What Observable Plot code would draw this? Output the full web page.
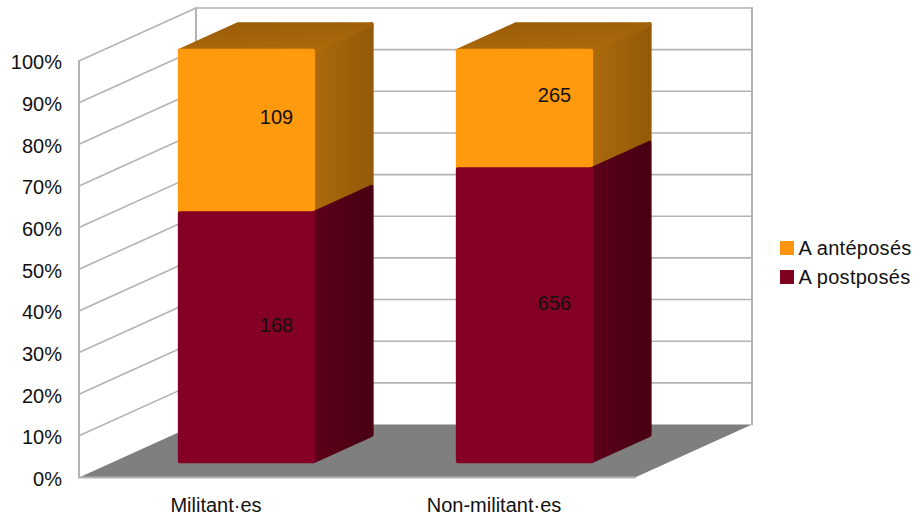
<!DOCTYPE html>
<html>
<head>
<meta charset="utf-8">
<script src="https://cdn.jsdelivr.net/npm/d3@7"></script>
<script src="https://cdn.jsdelivr.net/npm/@observablehq/plot@0.6"></script>
<style>
  html, body { margin: 0; padding: 0; background: #fff; }
  #chart { position: relative; width: 915px; height: 515px; overflow: hidden; font-family: "Liberation Sans", sans-serif; }
  #chart svg { display: block; }
  #legend { position: absolute; left: 780px; top: 234px; font-size: 20px; color: #111; line-height: 28.5px; letter-spacing: 0.27px; }
  #legend div { display: flex; align-items: center; white-space: nowrap; }
  #legend span.sw { width: 14px; height: 14px; margin-right: 4.5px; display: inline-block; }
</style>
</head>
<body>
<div id="chart"></div>
<script>
const categories = ["Militant·es", "Non-militant·es"];
const postposes = [168, 656];
const anteposes = [109, 265];
const seriesNames = ["A antéposés", "A postposés"];
const yTicks = [0, 10, 20, 30, 40, 50, 60, 70, 80, 90, 100];

const colors = {
  ante: "#ff9a0e", post: "#840024", legendAnte: "#ff950e", legendPost: "#7e0021",
  floor: "#7f7f7f", grid: "#b3b3b3", label: "#111"
};

// Oblique projection of the 3D box, in data units of the x and y scales
const depthX = 117 / 278, depthY = 12.72;
const P = (x, y, t) => ({x: x + t * depthX, y: y + t * depthY});
const poly = (pts, fill) => Plot.line(pts, {
  x: "x", y: "y", curve: "linear-closed", fill, stroke: fill,
  strokeWidth: 4, strokeLinejoin: "round"
});

const nCat = categories.length;
const t0 = 0.25, t1 = 0.75;         // depth of the bars
const bandA = 0.2575, bandB = 0.737; // width of the bars in a band
const bevel = 0.7;                  // inset of the rounded box ends, in percent

const gridPts = yTicks.slice(1).flatMap(v => [
  {...P(0, v, 0), id: v}, {...P(0, v, 1), id: v}, {...P(nCat, v, 1), id: v}
]);
const framePts = [
  {...P(0, 0, 0), id: "a"}, {...P(0, 100, 0), id: "a"},
  {...P(0, 0, 1), id: "b"}, {...P(0, 100, 1), id: "b"},
  {...P(nCat, 0, 1), id: "c"}, {...P(nCat, 100, 1), id: "c"},
  {...P(0, 0, 0), id: "d"}, {...P(nCat, 0, 0), id: "d"}
];

const barMarks = categories.flatMap((c, i) => {
  const total = postposes[i] + anteposes[i];
  const split = postposes[i] / total * 100;
  const a = i + bandA, b = i + bandB;
  const box = (lo, hi) => ({
    front: [P(a, lo, t0), P(b, lo, t0), P(b, hi, t0), P(a, hi, t0)],
    side: [P(b, lo, t0), P(b, lo, t1), P(b, hi, t1), P(b, hi, t0)],
    top: [P(a, hi, t0), P(b, hi, t0), P(b, hi, t1), P(a, hi, t1)]
  });
  const red = box(bevel, split - 0.4), org = box(split, 100 - bevel);
  return [
    poly(org.side, "url(#sideAnte)"), poly(org.top, "url(#topAnte)"), poly(org.front, colors.ante),
    poly(red.side, "url(#sidePost)"), poly(red.front, colors.post)
  ];
});

const labelRows = categories.flatMap((c, i) => {
  const total = postposes[i] + anteposes[i];
  const split = postposes[i] / total * 100;
  return [
    {...P(i + 0.5, split / 2, 0.5), text: String(postposes[i])},
    {...P(i + 0.5, (split + 100) / 2, 0.5), text: String(anteposes[i])}
  ];
});

const defs = () => {
  const d = d3.create("svg:defs");
  const grad = (id, x2, y2, stops) => {
    const g = d.append("linearGradient").attr("id", id).attr("x1", 0).attr("y1", 0).attr("x2", x2).attr("y2", y2);
    stops.forEach(([o, col]) => g.append("stop").attr("offset", o).attr("stop-color", col));
  };
  grad("sideAnte", 1, 0, [[0, "#ac6a0b"], [1, "#945a08"]]);
  grad("topAnte", 0.4, 1, [[0, "#995c08"], [1, "#ad690a"]]);
  grad("sidePost", 1, 0, [[0, "#5c0019"], [1, "#480012"]]);
  return d.node();
};

const plot = Plot.plot({
  width: 915,
  height: 515,
  marginLeft: 78.5,
  marginRight: 280.5,
  marginTop: 60.5,
  marginBottom: 38,
  style: {background: "transparent", fontFamily: "'Liberation Sans', sans-serif"},
  x: {domain: [0, nCat]},
  y: {domain: [0, 100]},
  marks: [
    defs,
    Plot.line([P(0, 0, 0), P(nCat, 0, 0), P(nCat, 0, 1), P(0, 0, 1)], {
      x: "x", y: "y", curve: "linear-closed", fill: colors.floor, stroke: "none"
    }),
    Plot.line(gridPts, {x: "x", y: "y", z: "id", stroke: colors.grid, strokeWidth: 1.6}),
    Plot.line(framePts, {x: "x", y: "y", z: "id", stroke: colors.grid, strokeWidth: 2}),
    ...barMarks,
    Plot.text(labelRows, {x: "x", y: "y", text: "text", fontSize: 20, fill: colors.label, dy: 1}),
    Plot.axisY({
      ticks: yTicks, tickSize: 0, tickPadding: 17, fontSize: 20, color: colors.label, label: null, dy: 2,
      tickFormat: d => d + "%"
    }),
    Plot.axisX({
      ticks: categories.map((c, i) => i + 0.5), tickSize: 0, tickPadding: 20, fontSize: 20, dx: -2,
      color: colors.label, label: null, tickFormat: d => categories[Math.floor(d)]
    })
  ]
});
document.getElementById("chart").appendChild(plot);

const legend = d3.select("#chart").append("div").attr("id", "legend");
[colors.legendAnte, colors.legendPost].forEach((col, i) => {
  const row = legend.append("div");
  row.append("span").attr("class", "sw").style("background", col);
  row.append("span").text(seriesNames[i]);
});
</script>
</body>
</html>
